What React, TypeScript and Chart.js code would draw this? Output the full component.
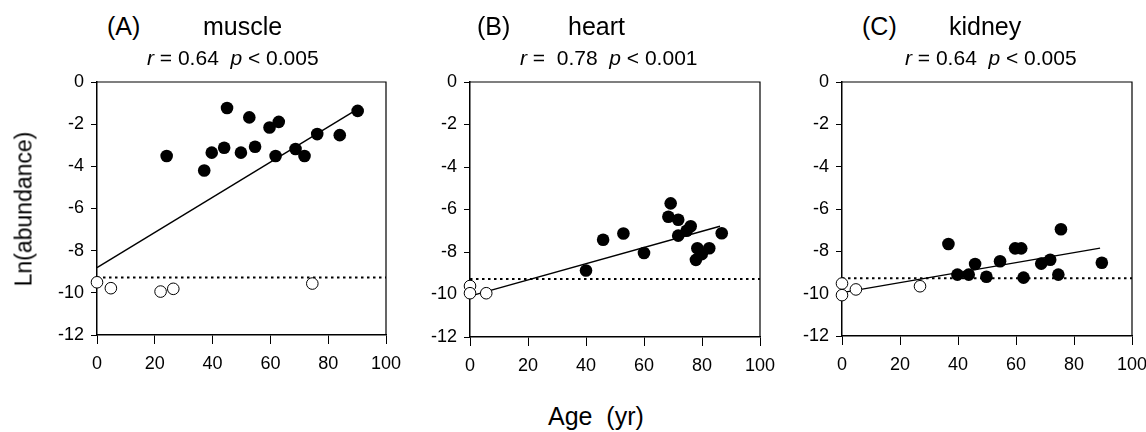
import React, { useEffect, useRef } from "react";
import { Chart, registerables } from "chart.js";
Chart.register(...registerables);

const FONT = "'Liberation Sans', Arial, Helvetica, sans-serif";

const xTicks = [0, 20, 40, 60, 80, 100];
const yTicks = [0, -2, -4, -6, -8, -10, -12];
const detectionLimit = -9.27;

// (A) muscle
const muscleAge = [24.1, 37.1, 39.7, 44.0, 45.0, 49.8, 52.7, 54.7, 59.7, 62.9, 61.8, 68.7, 71.8, 76.2, 84.0, 90.2];
const muscleLn = [-3.51, -4.2, -3.35, -3.12, -1.23, -3.35, -1.68, -3.07, -2.16, -1.89, -3.51, -3.18, -3.51, -2.47, -2.52, -1.37];
const muscleNdAge = [0, 4.8, 22.0, 26.4, 74.5];
const muscleNdLn = [-9.5, -9.78, -9.94, -9.81, -9.56];
const muscleFitAge = [0, 90];
const muscleFitLn = [-8.8, -1.3];

// (B) heart
const heartAge = [40.0, 45.9, 52.9, 60.0, 69.2, 68.4, 71.8, 71.8, 74.7, 76.1, 86.8, 78.4, 82.5, 79.9, 77.9];
const heartLn = [-8.87, -7.42, -7.13, -8.05, -5.71, -6.34, -6.48, -7.23, -7.0, -6.79, -7.12, -7.82, -7.82, -8.1, -8.37];
const heartNdAge = [0, 0, 5.6];
const heartNdLn = [-9.6, -9.94, -9.94];
const heartFitAge = [0, 86.2];
const heartFitLn = [-10.08, -6.79];

// (C) kidney
const kidneyAge = [36.7, 39.8, 43.7, 45.9, 49.8, 54.5, 59.7, 61.8, 62.6, 68.7, 71.8, 74.6, 75.5, 89.6];
const kidneyLn = [-7.65, -9.1, -9.1, -8.6, -9.2, -8.47, -7.86, -7.86, -9.24, -8.58, -8.4, -9.1, -6.96, -8.54];
const kidneyNdAge = [0, 0, 4.8, 26.9];
const kidneyNdLn = [-9.52, -10.07, -9.8, -9.65];
const kidneyFitAge = [0, 89];
const kidneyFitLn = [-9.95, -7.85];

const pts = (xs: number[], ys: number[]) => xs.map((x, i) => ({ x, y: ys[i] }));

const framePlugin = {
  id: "frame",
  afterDraw(chart: any) {
    const { ctx, chartArea: a } = chart;
    ctx.save();
    ctx.strokeStyle = "#000";
    ctx.lineWidth = 1.2;
    ctx.beginPath();
    ctx.moveTo(a.left, a.top);
    ctx.lineTo(a.right, a.top);
    ctx.lineTo(a.right, a.bottom);
    ctx.stroke();
    ctx.restore();
  },
};

type PanelProps = {
  left: number; top: number; width: number; height: number;
  age: number[]; ln: number[]; ndAge: number[]; ndLn: number[];
  fitAge: number[]; fitLn: number[];
};

function Panel(p: PanelProps) {
  const ref = useRef<HTMLCanvasElement>(null);
  useEffect(() => {
    if (!ref.current) return;
    const chart = new Chart(ref.current, {
      type: "scatter",
      data: {
        datasets: [
          {
            data: pts(p.age, p.ln),
            pointRadius: 6.3,
            pointBackgroundColor: "#000",
            pointBorderColor: "#000",
            pointBorderWidth: 0,
            showLine: false,
            order: 0,
            clip: false,
          } as any,
          {
            data: pts(p.ndAge, p.ndLn),
            pointRadius: 5.8,
            pointBackgroundColor: "#fff",
            pointBorderColor: "#000",
            pointBorderWidth: 1,
            showLine: false,
            order: 0,
            clip: false,
          },
          {
            data: pts(p.fitAge, p.fitLn),
            showLine: true,
            borderColor: "#000",
            borderWidth: 1.4,
            pointRadius: 0,
            order: 1,
            clip: false,
          },
          {
            data: pts([xTicks[0], xTicks[xTicks.length - 1]], [detectionLimit, detectionLimit]),
            showLine: true,
            borderColor: "#000",
            borderWidth: 2,
            borderDash: [2.5, 3.5],
            pointRadius: 0,
            order: 2,
            clip: false,
          },
        ],
      },
      options: {
        animation: false,
        responsive: false,
        maintainAspectRatio: false,
        layout: { padding: { top: 24, right: 25, left: 0, bottom: 0 } },
        plugins: { legend: { display: false }, tooltip: { enabled: false }, title: { display: false } },
        scales: {
          x: {
            type: "linear",
            min: 0,
            max: 100,
            afterBuildTicks: (s: any) => { s.ticks = xTicks.map((v) => ({ value: v })); },
            afterFit: (s: any) => { s.height = 45; },
            grid: { drawOnChartArea: false, drawTicks: true, tickLength: 9, color: "#000", lineWidth: 1 },
            border: { display: true, color: "#000", width: 1.5 },
            ticks: { color: "#000", font: { family: FONT, size: 18 }, padding: 9, maxRotation: 0, autoSkip: false },
          },
          y: {
            type: "linear",
            min: -12,
            max: 0,
            afterBuildTicks: (s: any) => { s.ticks = yTicks.map((v) => ({ value: v })); },
            afterFit: (s: any) => { s.width = 67; },
            grid: { drawOnChartArea: false, drawTicks: true, tickLength: 6, color: "#000", lineWidth: 1 },
            border: { display: true, color: "#000", width: 1.5 },
            ticks: { color: "#000", font: { family: FONT, size: 18 }, padding: 7, autoSkip: false },
          },
        },
      },
      plugins: [framePlugin],
    } as any);
    return () => chart.destroy();
  }, []);
  return (
    <canvas
      ref={ref}
      width={p.width}
      height={p.height}
      style={{ position: "absolute", left: p.left, top: p.top, width: p.width, height: p.height }}
    />
  );
}

const txt = (left: number, baseline: number, size: number, content: React.ReactNode) => (
  <div
    style={{
      position: "absolute",
      left,
      top: baseline - 0.8465 * size,
      fontSize: size,
      lineHeight: 1,
      whiteSpace: "pre",
      fontFamily: FONT,
      color: "#000",
    }}
  >
    {content}
  </div>
);

export default function App() {
  return (
    <div
      style={{
        position: "fixed",
        left: 0,
        top: 0,
        width: 1146,
        height: 432,
        overflow: "hidden",
        background: "#fff",
        fontFamily: FONT,
      }}
    >
      <Panel left={30} top={58} width={381} height={322}
        age={muscleAge} ln={muscleLn} ndAge={muscleNdAge} ndLn={muscleNdLn} fitAge={muscleFitAge} fitLn={muscleFitLn} />
      <Panel left={403} top={58} width={382} height={324}
        age={heartAge} ln={heartLn} ndAge={heartNdAge} ndLn={heartNdLn} fitAge={heartFitAge} fitLn={heartFitLn} />
      <Panel left={775} top={58} width={382} height={323}
        age={kidneyAge} ln={kidneyLn} ndAge={kidneyNdAge} ndLn={kidneyNdLn} fitAge={kidneyFitAge} fitLn={kidneyFitLn} />

      {txt(107, 35, 25, "(A)")}
      {txt(203, 35, 25, "muscle")}
      {txt(147, 65, 21, <><i>r</i>{" = 0.64  "}<i>p</i>{" < 0.005"}</>)}

      {txt(477, 35, 25, "(B)")}
      {txt(568, 35, 25, "heart")}
      {txt(520, 65, 21, <><i>r</i>{" =  0.78  "}<i>p</i>{" < 0.001"}</>)}

      {txt(862, 35, 25, "(C)")}
      {txt(949, 35, 25, "kidney")}
      {txt(905, 65, 21, <><i>r</i>{" = 0.64  "}<i>p</i>{" < 0.005"}</>)}

      {txt(548, 425, 25, "Age  (yr)")}

      <div
        style={{
          position: "absolute",
          left: 24,
          top: 209,
          transform: "translate(-50%, -50%) rotate(-90deg)",
          fontSize: 23,
          lineHeight: 1,
          whiteSpace: "pre",
          fontFamily: FONT,
          color: "#000",
        }}
      >
        Ln(abundance)
      </div>
    </div>
  );
}
